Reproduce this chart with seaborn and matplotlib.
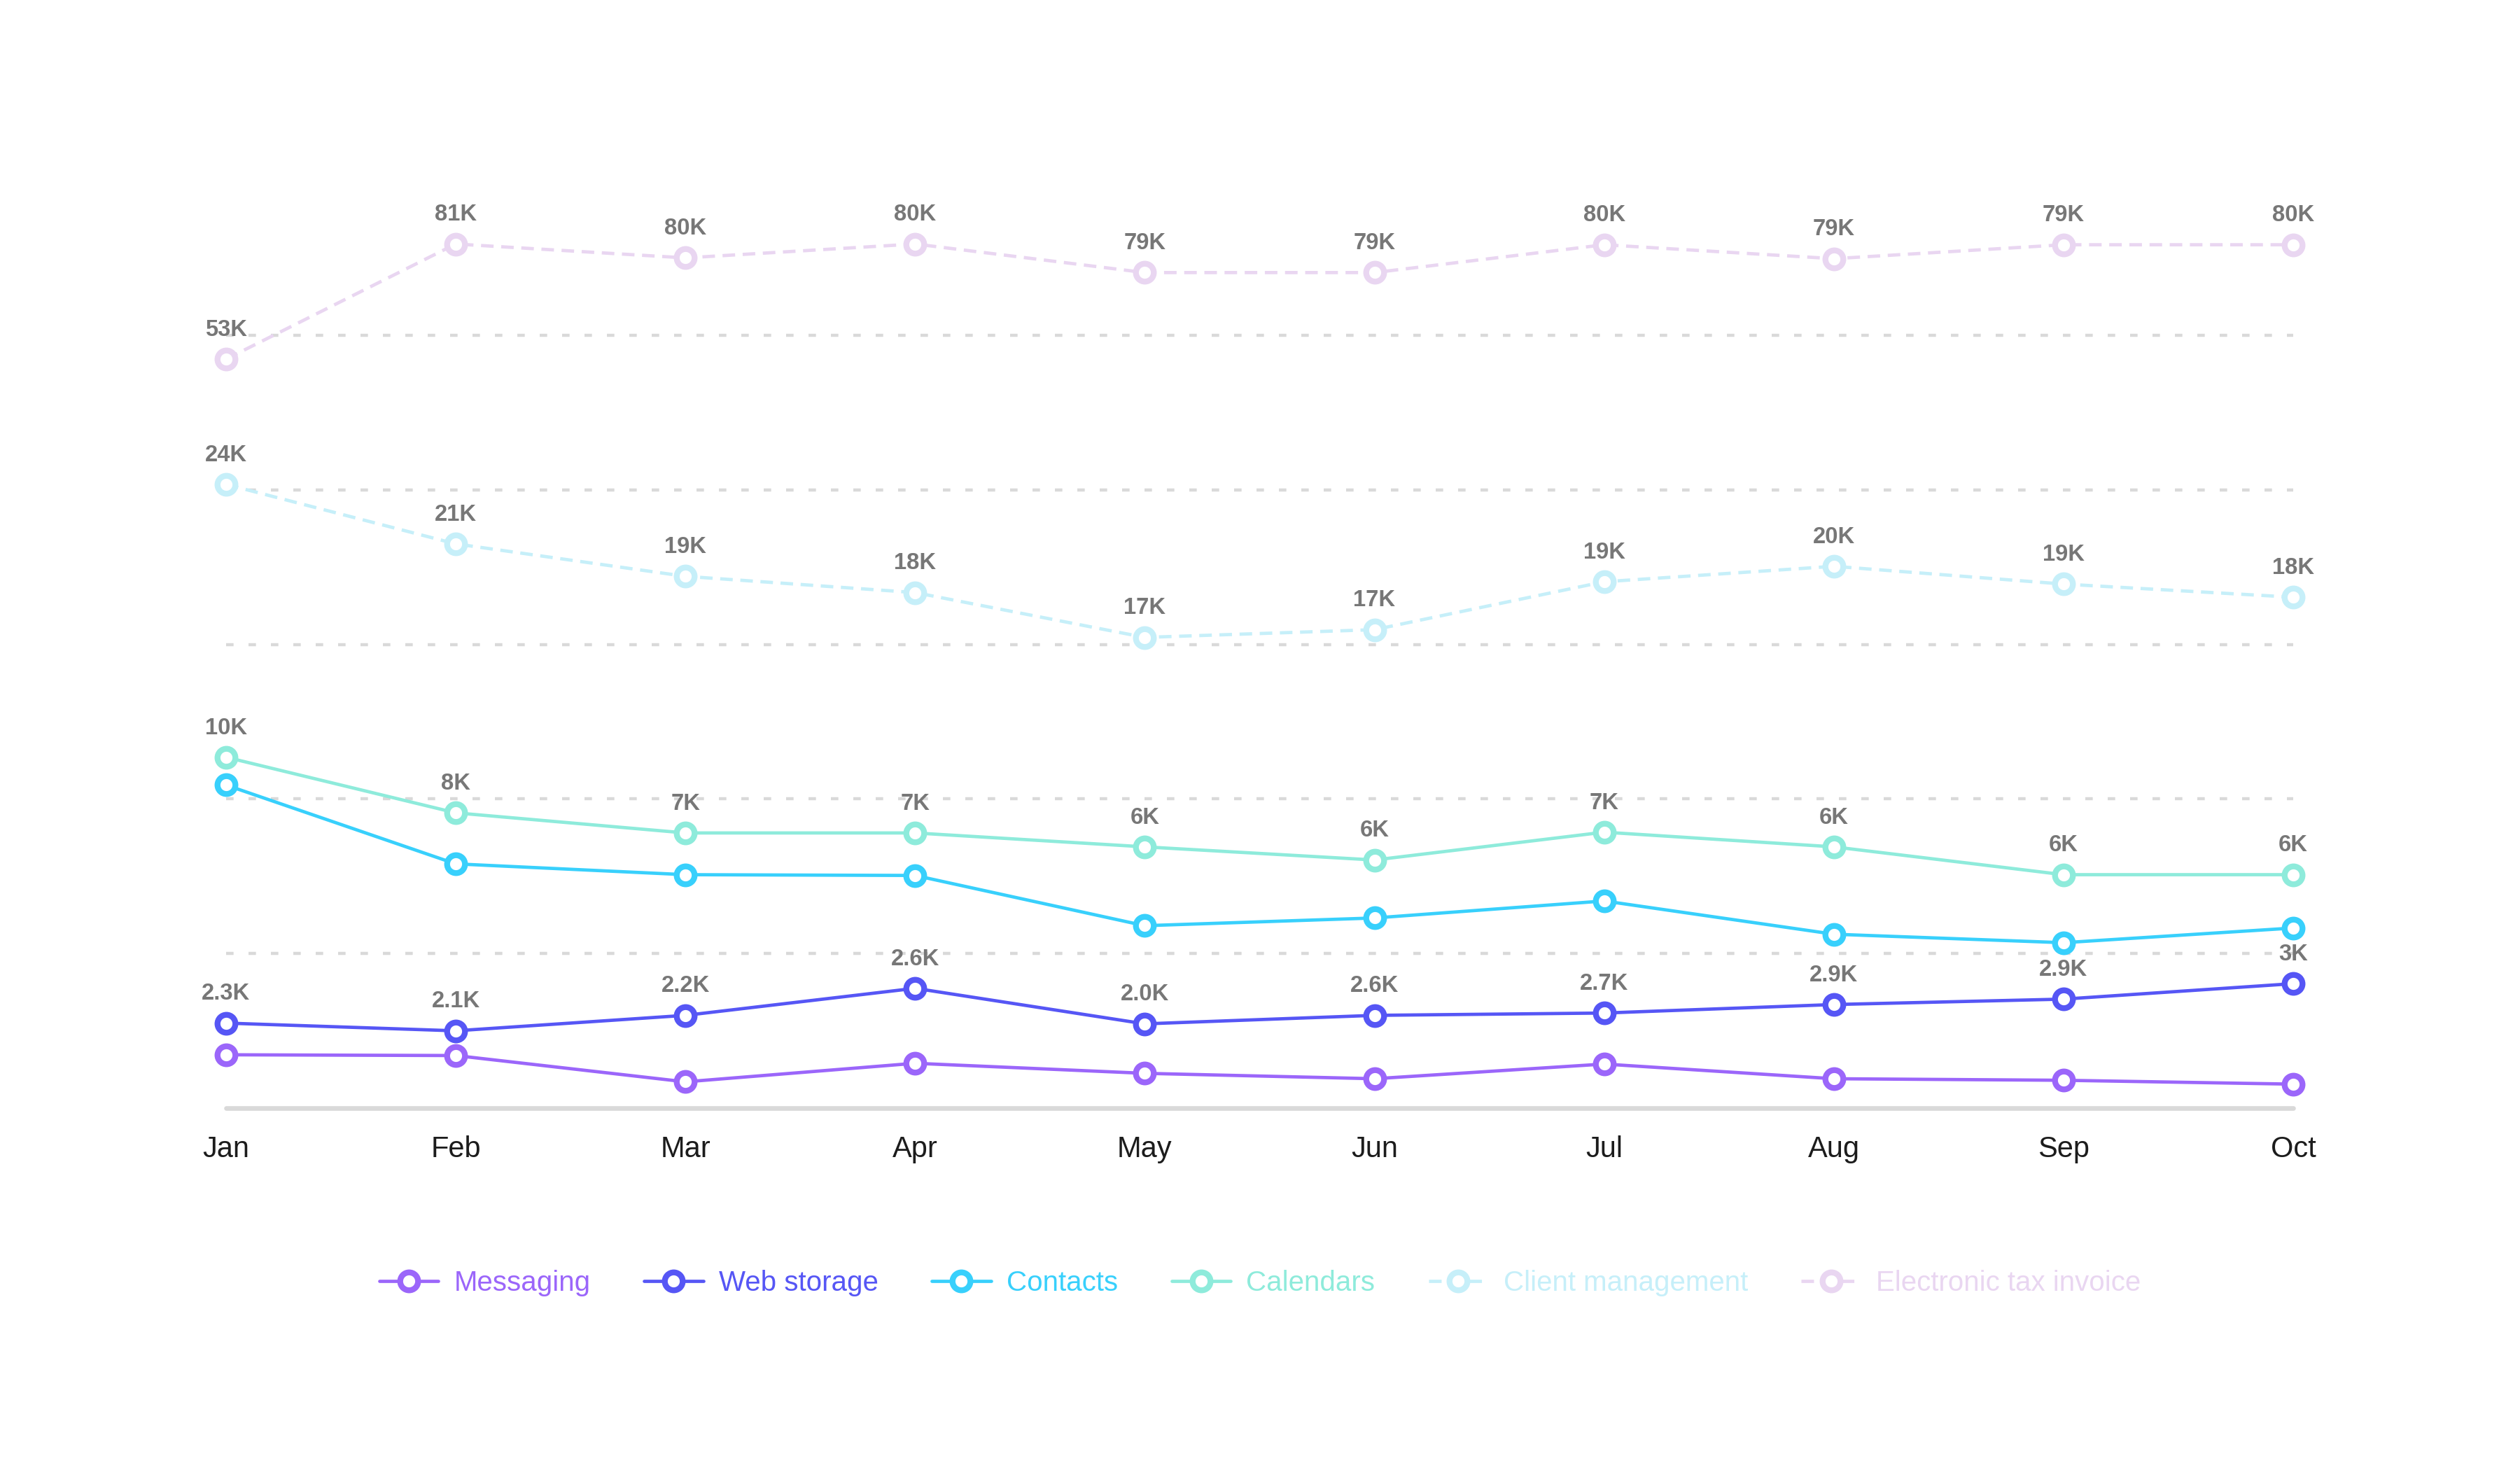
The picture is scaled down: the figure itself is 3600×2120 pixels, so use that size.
import pandas as pd
import seaborn as sns
import matplotlib.pyplot as plt
from matplotlib.lines import Line2D

months = ["Jan", "Feb", "Mar", "Apr", "May", "Jun", "Jul", "Aug", "Sep", "Oct"]

# heights as drawn, read against the dotted grid (lines at 20, 40, 60, 80, 100)
messaging = [6.9, 6.8, 3.4, 5.8, 4.5, 3.8, 5.7, 3.8, 3.6, 3.1]
web_storage = [11.0, 10.0, 12.0, 15.5, 10.9, 12.0, 12.3, 13.4, 14.1, 16.1]
contacts = [41.8, 31.6, 30.2, 30.1, 23.6, 24.6, 26.8, 22.5, 21.4, 23.3]
calendars = [45.4, 38.2, 35.6, 35.6, 33.8, 32.1, 35.7, 33.8, 30.2, 30.2]
client_mgmt = [80.7, 73.0, 68.8, 66.7, 60.9, 61.9, 68.1, 70.1, 67.8, 66.1]
tax_invoice = [96.9, 111.8, 110.0, 111.8, 108.1, 108.1, 111.7, 109.9, 111.7, 111.7]

# value labels printed above the points
web_labels = ["2.3K", "2.1K", "2.2K", "2.6K", "2.0K", "2.6K", "2.7K", "2.9K", "2.9K", "3K"]
calendar_labels = ["10K", "8K", "7K", "7K", "6K", "6K", "7K", "6K", "6K", "6K"]
client_labels = ["24K", "21K", "19K", "18K", "17K", "17K", "19K", "20K", "19K", "18K"]
invoice_labels = ["53K", "81K", "80K", "80K", "79K", "79K", "80K", "79K", "79K", "80K"]

series = [
    ("Messaging", messaging, "#9b66fa", False, None),
    ("Web storage", web_storage, "#5656f5", False, web_labels),
    ("Contacts", contacts, "#38d0fc", False, None),
    ("Calendars", calendars, "#8eebdb", False, calendar_labels),
    ("Client management", client_mgmt, "#c6eff9", True, client_labels),
    ("Electronic tax invoice", tax_invoice, "#e9d6f1", True, invoice_labels),
]

sns.set_theme(style="white")
plt.rcParams["font.family"] = ["Liberation Sans", "DejaVu Sans"]

fig = plt.figure(figsize=(18, 10.6), dpi=200)
ax = fig.add_axes([0.0897, 0.2533, 0.8203, 0.625])

handles = []
for name, vals, color, dashed, labels in series:
    df = pd.DataFrame({"month": months, "value": vals})
    ls = (0, (3.8, 2.3)) if dashed else "-"
    sns.lineplot(data=df, x="month", y="value", ax=ax, color=color, linewidth=1.7,
                 linestyle=ls, marker="o", markersize=9.2, markerfacecolor="white",
                 markeredgecolor=color, markeredgewidth=3.0, clip_on=False, zorder=3)
    if labels is not None:
        for i, (v, t) in enumerate(zip(vals, labels)):
            ax.annotate(t, (i, v), xytext=(0, 15), textcoords="offset points",
                        ha="center", va="center", fontsize=11.8, fontweight="bold",
                        color="#777777", zorder=4)
    handles.append(Line2D([], [], color=color, linestyle=ls, linewidth=1.7, marker="o",
                          markersize=9.2, markerfacecolor="white", markeredgecolor=color,
                          markeredgewidth=3.0))

ax.set_xlim(0, 9)
ax.set_ylim(0, 120)
ax.set_yticks([20, 40, 60, 80, 100])
ax.set_yticklabels([])
ax.yaxis.grid(True, color="#d9d9d9", linewidth=1.6, linestyle=(0, (2.4, 4.8)))
ax.xaxis.grid(False)
ax.set_xlabel("")
ax.set_ylabel("")
ax.tick_params(axis="x", length=0, pad=14, labelsize=15, labelcolor="#1c1c1c")
ax.tick_params(axis="y", length=0)
for s in ["top", "right", "left"]:
    ax.spines[s].set_visible(False)
ax.spines["bottom"].set_color("#d9d9d9")
ax.spines["bottom"].set_linewidth(2.4)
ax.spines["bottom"].set_capstyle("round")
ax.set_axisbelow(True)

fig.legend(handles, [s[0] for s in series], loc="center", bbox_to_anchor=(0.5, 0.1354),
           ncol=6, frameon=False, fontsize=14.5, handlelength=2.1, handletextpad=0.55,
           columnspacing=1.9, labelcolor="linecolor")

fig.savefig("out.png", dpi=200)
